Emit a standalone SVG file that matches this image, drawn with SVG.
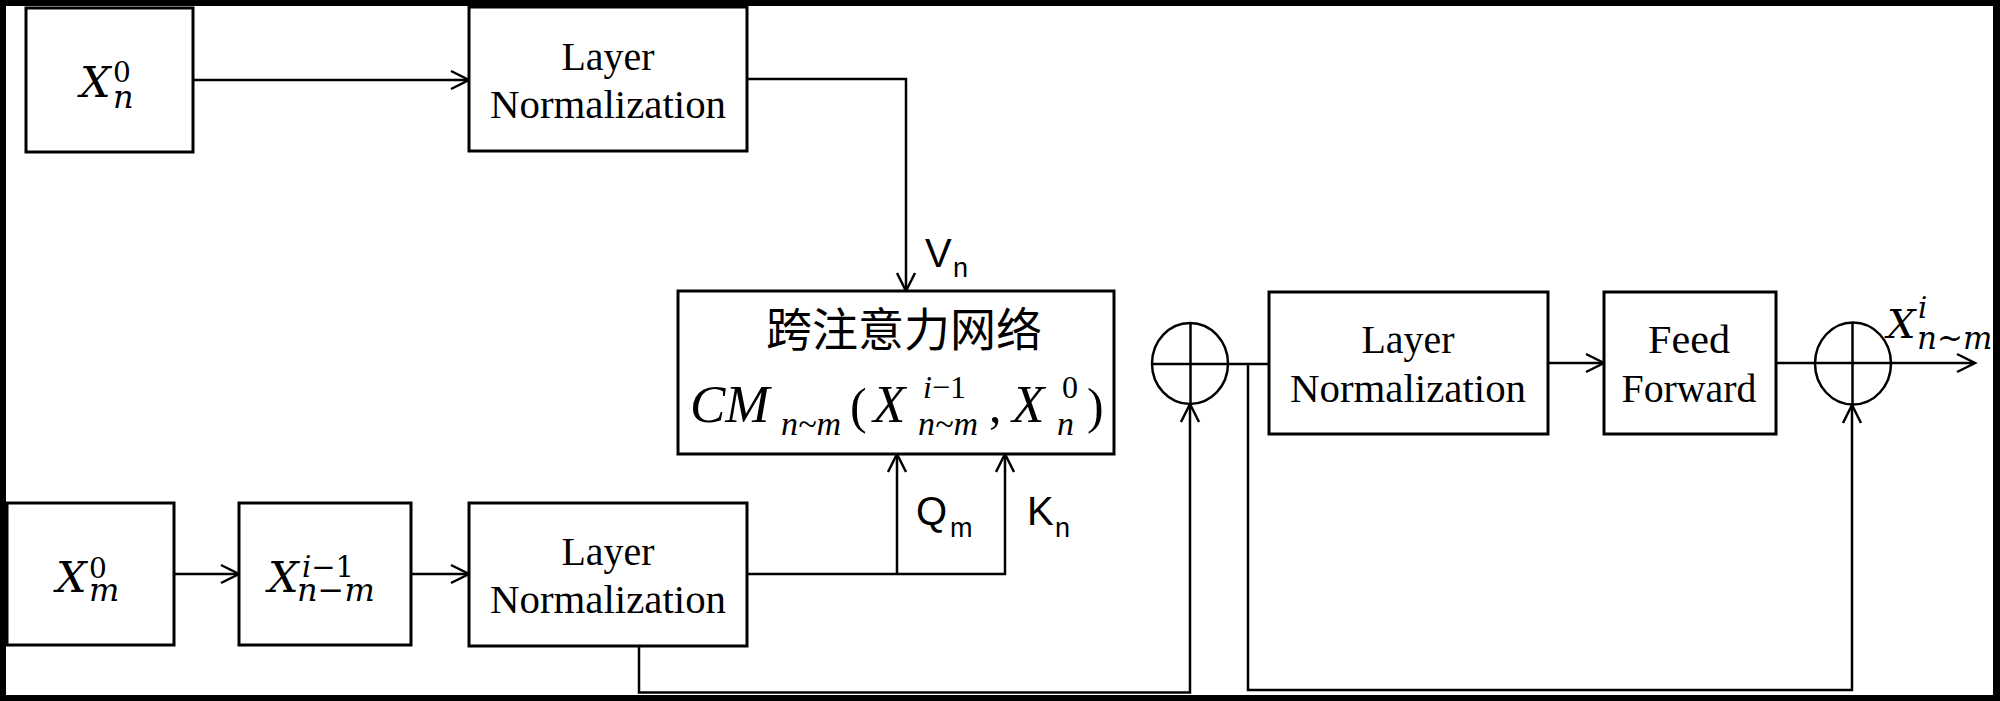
<svg xmlns="http://www.w3.org/2000/svg" width="2000" height="701" viewBox="0 0 2000 701">
<defs>
<style>
.box{fill:#fff;stroke:#000;stroke-width:3}
.ln{fill:none;stroke:#000;stroke-width:2.5}
.tn{font-family:"Liberation Serif","Times New Roman",serif;font-size:40px;fill:#000;text-anchor:middle}
.mi{font-family:"Liberation Serif","Times New Roman",serif;font-style:italic;fill:#000}
.mu{font-family:"Liberation Serif","Times New Roman",serif;font-style:normal;fill:#000}
.ci{font-family:"DejaVu Serif",serif;font-style:italic;fill:#000}
.cu{font-family:"DejaVu Serif",serif;font-style:normal;fill:#000}
.sa{font-family:"Liberation Sans",Arial,sans-serif;fill:#000}
.cjk{font-family:"Noto Sans CJK SC","Noto Sans",sans-serif;font-size:46px;fill:#000;text-anchor:middle}
</style>
<marker id="ah" markerUnits="userSpaceOnUse" markerWidth="24" markerHeight="24" viewBox="-20 -12 24 24" refX="0" refY="0" orient="auto">
<path d="M-18,-9 L0,0 L-18,9" fill="none" stroke="#000" stroke-width="2.5"/>
</marker>
</defs>
<rect x="0" y="0" width="2000" height="701" fill="#fff"/>

<g id="connectors">
<path class="ln" d="M193,80 H469" marker-end="url(#ah)"/>
<path class="ln" d="M747,79 H906 V291" marker-end="url(#ah)"/>
<path class="ln" d="M174,574 H239" marker-end="url(#ah)"/>
<path class="ln" d="M411,574 H469" marker-end="url(#ah)"/>
<path class="ln" d="M747,574 H1005 V454" marker-end="url(#ah)"/>
<path class="ln" d="M897,574 V454" marker-end="url(#ah)"/>
<path class="ln" d="M639,646 V692.5 H1190 V404" marker-end="url(#ah)"/>
<path class="ln" d="M1228,364 H1269"/>
<path class="ln" d="M1248,364 V690 H1852 V405" marker-end="url(#ah)"/>
<path class="ln" d="M1548,363 H1604" marker-end="url(#ah)"/>
<path class="ln" d="M1776,363 H1815"/>
<path class="ln" d="M1892,363 H1975" marker-end="url(#ah)"/>
</g>

<g id="xn0">
<rect class="box" x="26" y="8" width="167" height="144"/>
<text class="ci" font-size="43"><tspan x="80" y="97">X</tspan><tspan class="cu" x="113" y="82" font-size="28">0</tspan><tspan x="113" y="108" font-size="32">n</tspan></text>
</g>

<g id="ln1">
<rect class="box" x="469" y="7" width="278" height="144"/>
<text class="tn"><tspan x="608" y="70" textLength="93" lengthAdjust="spacingAndGlyphs">Layer</tspan><tspan x="608" y="118" textLength="236" lengthAdjust="spacingAndGlyphs">Normalization</tspan></text>
</g>

<g id="vn-label">
<text class="sa" font-size="40"><tspan x="925" y="267">V</tspan><tspan x="953" y="277" font-size="27">n</tspan></text>
</g>

<g id="cm">
<rect class="box" x="678" y="291" width="436" height="163"/>
<text class="cjk" x="904" y="346">跨注意力网络</text>
<text class="mi" font-size="53"><tspan x="690" y="422">CM</tspan><tspan x="781" y="435" font-size="34">n~m</tspan><tspan class="mu" x="850" y="423" font-size="50">(</tspan><tspan x="873" y="422">X</tspan><tspan x="923" y="398" font-size="32">i<tspan class="mu">−1</tspan></tspan><tspan x="918" y="435" font-size="34">n~m</tspan><tspan class="mu" x="989" y="422" font-size="50">,</tspan><tspan x="1012" y="422">X</tspan><tspan class="mu" x="1062" y="398" font-size="32">0</tspan><tspan x="1057" y="435" font-size="34">n</tspan><tspan class="mu" x="1087" y="423" font-size="50">)</tspan></text>
</g>

<g id="qk-labels">
<text class="sa" font-size="40"><tspan x="916" y="525">Q</tspan><tspan x="950" y="537" font-size="27">m</tspan></text>
<text class="sa" font-size="40"><tspan x="1027" y="525">K</tspan><tspan x="1055" y="537" font-size="27">n</tspan></text>
</g>

<g id="xm0">
<rect class="box" x="7" y="503" width="167" height="142"/>
<text class="ci" font-size="43"><tspan x="56" y="592">X</tspan><tspan class="cu" x="89" y="578" font-size="28">0</tspan><tspan x="89" y="601" font-size="32">m</tspan></text>
</g>

<g id="xi1">
<rect class="box" x="239" y="503" width="172" height="142"/>
<text class="ci" font-size="43"><tspan x="268" y="592">X</tspan><tspan x="302" y="577" font-size="29">i<tspan class="cu">−1</tspan></tspan><tspan x="297" y="601" font-size="32">n<tspan class="cu">−</tspan>m</tspan></text>
</g>

<g id="ln2">
<rect class="box" x="469" y="503" width="278" height="143"/>
<text class="tn"><tspan x="608" y="565" textLength="93" lengthAdjust="spacingAndGlyphs">Layer</tspan><tspan x="608" y="613" textLength="236" lengthAdjust="spacingAndGlyphs">Normalization</tspan></text>
</g>

<g id="add1">
<ellipse cx="1190" cy="363.5" rx="38" ry="40.5" fill="#fff" stroke="#000" stroke-width="2.5"/>
<path class="ln" d="M1152,364 H1228 M1190.5,323 V404"/>
</g>

<g id="ln3">
<rect class="box" x="1269" y="292" width="279" height="142"/>
<text class="tn"><tspan x="1408" y="353" textLength="93" lengthAdjust="spacingAndGlyphs">Layer</tspan><tspan x="1408" y="402" textLength="236" lengthAdjust="spacingAndGlyphs">Normalization</tspan></text>
</g>

<g id="ff">
<rect class="box" x="1604" y="292" width="172" height="142"/>
<text class="tn"><tspan x="1689" y="353" textLength="82" lengthAdjust="spacingAndGlyphs">Feed</tspan><tspan x="1689" y="402" textLength="135" lengthAdjust="spacingAndGlyphs">Forward</tspan></text>
</g>

<g id="add2">
<ellipse cx="1853" cy="363.5" rx="38" ry="41" fill="#fff" stroke="#000" stroke-width="2.5"/>
<path class="ln" d="M1815,363 H1892 M1852.5,322.5 V405"/>
</g>

<g id="out-label">
<text class="ci" font-size="40"><tspan x="1887" y="338">X</tspan><tspan x="1918" y="318" font-size="29">i</tspan><tspan x="1917" y="349" font-size="31">n~m</tspan></text>
</g>

<g id="frame" fill="#000">
<rect x="0" y="0" width="2000" height="6"/>
<rect x="0" y="0" width="6" height="701"/>
<rect x="1993" y="0" width="7" height="701"/>
<rect x="0" y="695" width="2000" height="6"/>
</g>
</svg>
